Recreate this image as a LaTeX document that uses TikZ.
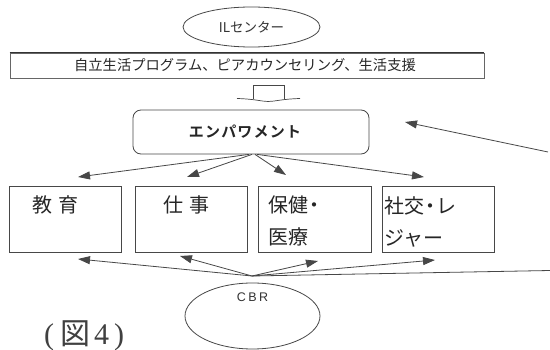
\documentclass[tikz,border=0pt]{standalone}
\usepackage{fontspec}
\setmainfont{Noto Sans CJK JP}
\newfontfamily\serifl{Liberation Serif}
\newfontfamily\empfont[LetterSpace=8,BoldFont={Noto Sans CJK JP Bold}]{Noto Sans CJK JP}
\newfontfamily\boxfont{Noto Sans CJK JP}
\newfontfamily\boxfontw[LetterSpace=30]{Noto Sans CJK JP}
\newfontfamily\latinsp[LetterSpace=20]{Liberation Sans}
\newcommand{\mydot}{\hspace{-4pt}・\hspace{-4pt}}
\usetikzlibrary{arrows.meta,shapes.geometric}
\begin{document}
\begin{tikzpicture}[x=1pt,y=-1pt,
  ln/.style={draw=black!72, line width=0.8pt},
  arr/.style={ln, -{Triangle[length=12pt,width=8pt]}},
  ell/.style={ellipse, ln, inner sep=0pt},
  catbox/.style={rectangle, ln, minimum width=112pt, minimum height=66pt, inner sep=0pt},
  cattext/.style={anchor=west, inner sep=0pt, align=left, text=black!85, font=\fontsize{20}{32}\boxfont}
]
\useasboundingbox[fill=white] (0,0) rectangle (550,350);

% IL center
\node[ell, minimum width=137pt, minimum height=40pt, font=\fontsize{13.5}{14}\selectfont, text=black!80] (il) at (251.5,27) {ILセンター};

% program bar
\node[rectangle, draw=black!60, line width=0.7pt, minimum width=474pt, minimum height=25pt, inner sep=0pt,
      font=\fontsize{14.3}{15}\selectfont, text=black!85] (prog) at (247,65.5) {\hspace*{-4pt}自立生活プログラム、ピアカウンセリング、生活支援};
\draw[black!80, line width=1.1pt] (prog.north west) -- (prog.north east);

% block arrow
\draw[ln, line width=0.7pt] (253,99) -- (253,85.5) -- (284,85.5) -- (284,99);
\draw[ln, line width=0.7pt] (237,98.5) .. controls (255,99) and (262,101.5) .. (268,101.5) .. controls (275,101.5) and (282,99) .. (300,98.5);

% empowerment
\node[rectangle, rounded corners=8pt, ln, minimum width=236pt, minimum height=44pt, inner sep=0pt,
      font=\fontsize{15}{16}\empfont\bfseries, text=black!85] (emp) at (251,132) {\hspace*{-12pt}エンパワメント};

% category boxes
\node[catbox] (b1) at (65,219) {};
\node[catbox] (b2) at (191,219) {};
\node[catbox, minimum width=113pt] (b3) at (314.5,219) {};
\node[catbox] (b4) at (438,219) {};
\node[cattext, font=\fontsize{20}{32}\boxfontw] (t1) at (32,205) {教育};
\node[cattext, font=\fontsize{20}{32}\boxfontw] (t2) at (163,205) {仕事};
\node[cattext, anchor=north west] (t3) at (268,196) {保健\mydot\\医療};
\node[cattext, anchor=north west] (t4) at (384,196) {社交\mydot レ\\ジャー};

% arrows from empowerment
\coordinate (a1) at (78,177);
\coordinate (a2) at (187,177);
\coordinate (a3) at (286,175);
\coordinate (a4) at (424,177);
\draw[arr] ([xshift=-2pt]emp.south) -- (a1);
\draw[arr] ([xshift=1pt]emp.south) -- (a2);
\draw[arr] ([xshift=4pt]emp.south) -- (a3);
\draw[arr] ([xshift=6pt]emp.south) -- (a4);

% CBR
\node[ell, minimum width=135pt, minimum height=66pt] (cbr) at (252.5,316) {};
\node[font=\fontsize{12.5}{13}\latinsp, text=black!80] (cbrt) at (252.5,297) {CBR};

% arrows from CBR hub
\coordinate (hub) at (252,276);
\coordinate (u1) at (78,259);
\coordinate (u2) at (180,256);
\coordinate (u3) at (318,261);
\coordinate (u4) at (435,260);
\coordinate (rr) at (550,270.5);
\draw[arr] (hub) -- (u1);
\draw[arr] (hub) -- (u2);
\draw[arr] (hub) -- (u3);
\draw[arr] (hub) -- (u4);
\draw[ln] (hub) -- (rr);

% arrow back to empowerment from right
\coordinate (re) at (548,152);
\coordinate (rt) at (405,122);
\draw[arr] (re) -- (rt);

% figure caption
\node[anchor=west, inner sep=0pt, text=black!75, font=\fontsize{30}{32}\selectfont] (cap) at (44,336)
  {{\serifl(}\hspace{6pt}図\hspace{4pt}{\serifl 4\hspace{5pt})}};
\end{tikzpicture}
\end{document}
